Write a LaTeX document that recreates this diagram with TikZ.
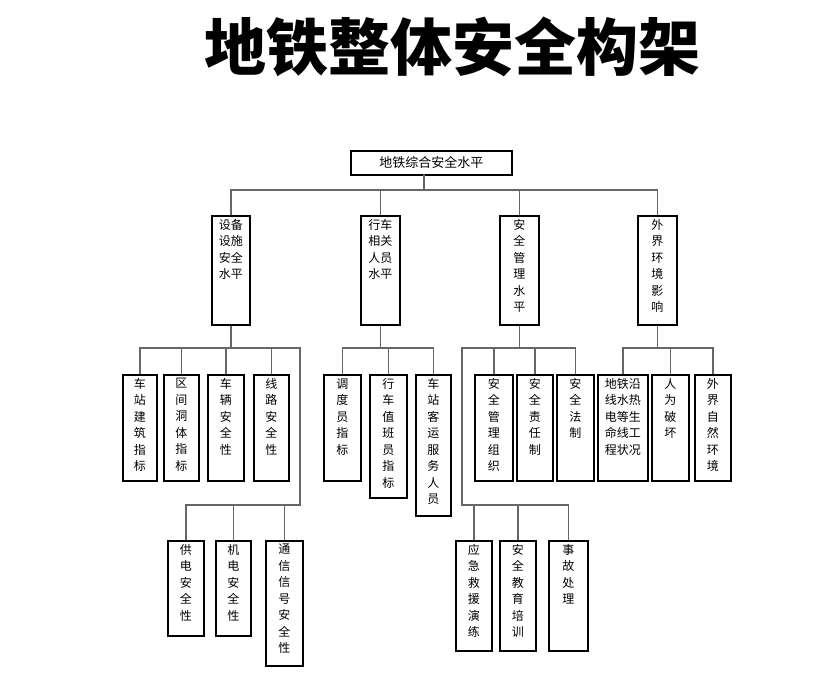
\documentclass[tikz,border=0pt]{standalone}
\usepackage{fontspec}
\newfontfamily\cjk{Noto Sans CJK SC}
\begin{document}
\begin{tikzpicture}[x=1pt,y=-1pt,
  bxs/.style={draw=black,line width=1.6pt,fill=white,inner sep=0pt},
  txt/.style={anchor=north,align=center,font=\cjk\fontsize{12}{16.5}\selectfont,inner sep=0pt},
  ln/.style={draw=black!60,line width=1.6pt}]
\useasboundingbox (0,0) rectangle (833,679);
\newcommand\bx[6]{%
  \node[bxs,minimum width={#4-#2},minimum height={#5-#3},anchor=north west] (#1) at (#2,#3) {};
  \node[txt] at ([yshift=-4pt]#1.north) {#6};}
\node[font=\cjk\bfseries\fontsize{62}{62}\selectfont] (title) at (452,47) {地铁整体安全构架};
% top
\node[bxs,minimum width=161,minimum height=24,anchor=north west,font=\cjk\fontsize{13}{13}\selectfont] (top) at (350,150) {地铁综合安全水平};
\coordinate (tc) at (424,174);
% level 2
\bx{a}{211}{215}{249}{324}{设备\\设施\\安全\\水平}
\bx{b}{360}{215}{399}{324}{行车\\相关\\人员\\水平}
\bx{c}{499}{215}{538}{324}{安\\全\\管\\理\\水\\平}
\bx{d}{637}{215}{676}{324}{外\\界\\环\\境\\影\\响}
% level 3 group 1
\bx{a1}{122}{374}{156}{480}{车\\站\\建\\筑\\指\\标}
\bx{a2}{163}{374}{198}{480}{区\\间\\洞\\体\\指\\标}
\bx{a3}{207}{374}{243}{480}{车\\辆\\安\\全\\性}
\bx{a4}{253}{374}{288}{480}{线\\路\\安\\全\\性}
\bx{a5}{167}{540}{203}{635}{供\\电\\安\\全\\性}
\bx{a6}{215}{540}{250}{635}{机\\电\\安\\全\\性}
\bx{a7}{265}{540}{302}{665}{通\\信\\信\\号\\安\\全\\性}
% group 2
\bx{b1}{323}{374}{360}{480}{调\\度\\员\\指\\标}
\bx{b2}{369}{374}{406}{497}{行\\车\\值\\班\\员\\指\\标}
\bx{b3}{415}{374}{450}{515}{车\\站\\客\\运\\服\\务\\人\\员}
% group 3
\bx{c1}{474}{374}{512}{480}{安\\全\\管\\理\\组\\织}
\bx{c2}{516}{374}{552}{480}{安\\全\\责\\任\\制}
\bx{c3}{556}{374}{593}{480}{安\\全\\法\\制}
\bx{c4}{455}{540}{491}{650}{应\\急\\救\\援\\演\\练}
\bx{c5}{499}{540}{535}{650}{安\\全\\教\\育\\培\\训}
\bx{c6}{548}{540}{587}{650}{事\\故\\处\\理}
% group 4
\bx{d1}{597}{374}{647}{480}{地铁沿\\线水热\\电等生\\命线工\\程状况}
\bx{d2}{651}{374}{688}{480}{人\\为\\破\\坏}
\bx{d3}{694}{374}{730}{480}{外\\界\\自\\然\\环\\境}
% connectors
\draw[ln] (tc) -- (tc |- 0,190);
\draw[ln] (a.north) |- (d.north |- 0,190) -- (d.north);
\draw[ln] (b.north) -- (b.north |- 0,190);
\draw[ln] (c.north) -- (c.north |- 0,190);
% group1
\coordinate (g1r) at (300,348);
\draw[ln] (a.south) -- (a.south |- 0,348);
\draw[ln] (a1.north) |- (g1r) -- (300,505) -| (a5.north);
\foreach \n in {a2,a3,a4} \draw[ln] (\n.north) -- (\n.north |- 0,348);
\foreach \n in {a6,a7} \draw[ln] (\n.north) -- (\n.north |- 0,505);
% group2
\draw[ln] (b.south) -- (b.south |- 0,348);
\draw[ln] (b1.north) |- (b3.north |- 0,348) -- (b3.north);
\draw[ln] (b2.north) -- (b2.north |- 0,348);
% group3
\coordinate (g3l) at (462,348);
\draw[ln] (c.south) -- (c.south |- 0,348);
\draw[ln] (c3.north) |- (g3l) -- (462,505) -| (c6.north);
\foreach \n in {c1,c2} \draw[ln] (\n.north) -- (\n.north |- 0,348);
\foreach \n in {c4,c5} \draw[ln] (\n.north) -- (\n.north |- 0,505);
% group4
\draw[ln] (d.south) -- (d.south |- 0,348);
\draw[ln] (d1.north) |- (d3.north |- 0,348) -- (d3.north);
\draw[ln] (d2.north) -- (d2.north |- 0,348);
\end{tikzpicture}
\end{document}
